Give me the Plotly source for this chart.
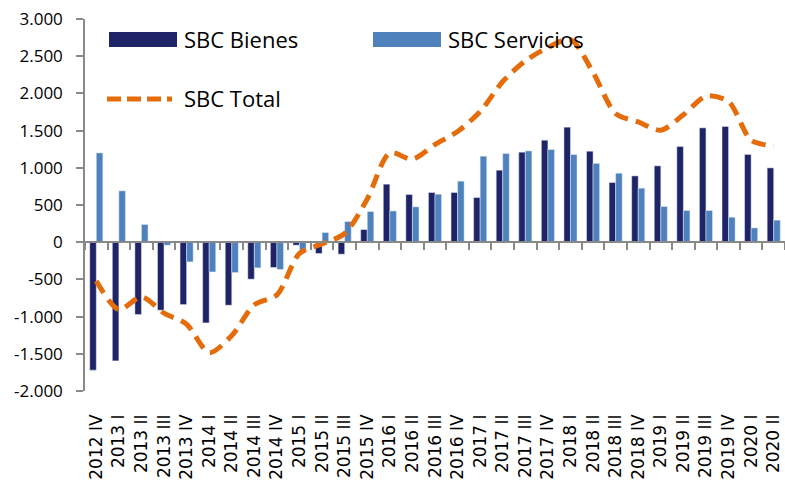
import plotly.graph_objects as go

categories = ["2012 IV", "2013 I", "2013 II", "2013 III", "2013 IV", "2014 I", "2014 II",
              "2014 III", "2014 IV", "2015 I", "2015 II", "2015 III", "2015 IV", "2016 I",
              "2016 II", "2016 III", "2016 IV", "2017 I", "2017 II", "2017 III", "2017 IV",
              "2018 I", "2018 II", "2018 III", "2018 IV", "2019 I", "2019 II", "2019 III",
              "2019 IV", "2020 I", "2020 II"]

bienes = [-1720, -1595, -972, -914, -838, -1085, -847, -497, -340, -40, -152, -161, 170, 780,
          641, 668, 668, 600, 968, 1210, 1371, 1546, 1223, 802, 891, 1026, 1286, 1537, 1555,
          1179, 999]

servicios = [1200, 690, 238, -40, -265, -400, -408, -345, -367, -110, 130, 278, 412, 420,
             475, 645, 820, 1156, 1192, 1227, 1246, 1178, 1058, 927, 726, 480, 426, 426, 336,
             192, 296]

total = [-520, -905, -734, -954, -1103, -1485, -1255, -842, -707, -150, -22, 117, 582, 1200,
         1116, 1313, 1488, 1756, 2160, 2437, 2617, 2724, 2281, 1729, 1617, 1506, 1712, 1963,
         1891, 1371, 1295]

y_tickvals = [-2000, -1500, -1000, -500, 0, 500, 1000, 1500, 2000, 2500, 3000]
y_ticktext = ["-2.000", "-1.500", "-1.000", "-500", "0", "500", "1.000", "1.500", "2.000",
              "2.500", "3.000"]

C_BIENES = "#1F2468"
C_SERV = "#4F81BD"
C_TOTAL = "#E46C0A"
GRID = "#898989"
FONT = "Open Sans"

fig = go.Figure()
fig.add_trace(go.Bar(x=categories, y=bienes, name="SBC Bienes", marker_color=C_BIENES,
                     showlegend=False))
fig.add_trace(go.Bar(x=categories, y=servicios, name="SBC Servicios", marker_color=C_SERV,
                     showlegend=False))
fig.add_trace(go.Scatter(x=categories, y=total, name="SBC Total", mode="lines",
                         line=dict(color=C_TOTAL, width=5, dash="14px,8px", shape="spline",
                                   smoothing=0.8),
                         showlegend=False))
# invisible helper trace so the zero-line category axis gets its categories
fig.add_trace(go.Scatter(x=categories, y=total, xaxis="x2", mode="lines",
                         line=dict(width=0), opacity=0, hoverinfo="skip", showlegend=False))

# plot-area pixel geometry, used to place the hand-drawn legend
L, R, T, B = 85, 785, 19, 391
def px(x):
    return (x - L) / (R - L)
def py(y):
    return (B - y) / (B - T)

shapes = [
    dict(type="rect", xref="paper", yref="paper", x0=px(109), x1=px(177), y0=py(47), y1=py(32),
         fillcolor=C_BIENES, line=dict(width=0)),
    dict(type="rect", xref="paper", yref="paper", x0=px(373), x1=px(441), y0=py(47), y1=py(32),
         fillcolor=C_SERV, line=dict(width=0)),
    dict(type="line", xref="paper", yref="paper", x0=px(107), x1=px(172), y0=py(99), y1=py(99),
         line=dict(color=C_TOTAL, width=5, dash="14px,6px")),
]
annotations = [
    dict(text="SBC Bienes", xref="paper", yref="paper", x=px(182), y=py(39), xanchor="left",
         yanchor="middle", showarrow=False, font=dict(family=FONT, size=22, color="#000")),
    dict(text="SBC Servicios", xref="paper", yref="paper", x=px(446), y=py(39), xanchor="left",
         yanchor="middle", showarrow=False, font=dict(family=FONT, size=22, color="#000")),
    dict(text="SBC Total", xref="paper", yref="paper", x=px(182), y=py(98), xanchor="left",
         yanchor="middle", showarrow=False, font=dict(family=FONT, size=22, color="#000")),
]

fig.update_layout(
    width=785, height=481,
    margin=dict(l=L, r=785 - R, t=T, b=481 - B),
    plot_bgcolor="white", paper_bgcolor="white",
    barmode="group", bargap=0.42, bargroupgap=0,
    shapes=shapes, annotations=annotations,
    xaxis=dict(type="category", categoryorder="array", categoryarray=categories,
               range=[-0.5, len(categories) - 0.5],
               showline=False, ticks="", showgrid=False, zeroline=False,
               tickangle=-90, ticklabelstandoff=19,
               tickfont=dict(family="DejaVu Sans", size=17, color="#000")),
    xaxis2=dict(type="category", categoryorder="array", categoryarray=categories,
                matches="x", overlaying="x", anchor="free", position=0.4, side="bottom",
                showline=True, linecolor=GRID, linewidth=1.5,
                ticks="outside", tickson="boundaries", ticklen=7, tickcolor=GRID, tickwidth=1.5,
                showticklabels=False, showgrid=False, zeroline=False),
    yaxis=dict(range=[-2000, 3000], tickvals=y_tickvals, ticktext=y_ticktext,
               showline=True, linecolor=GRID, linewidth=1.5,
               ticks="outside", ticklen=7, tickcolor=GRID, tickwidth=1.5,
               ticklabelstandoff=10,
               showgrid=False, zeroline=False,
               tickfont=dict(family=FONT, size=17, color="#000")),
)

fig.write_html("out.html", config={"displayModeBar": False},
               post_script="document.body.style.margin='0';document.body.style.overflow='hidden';")
